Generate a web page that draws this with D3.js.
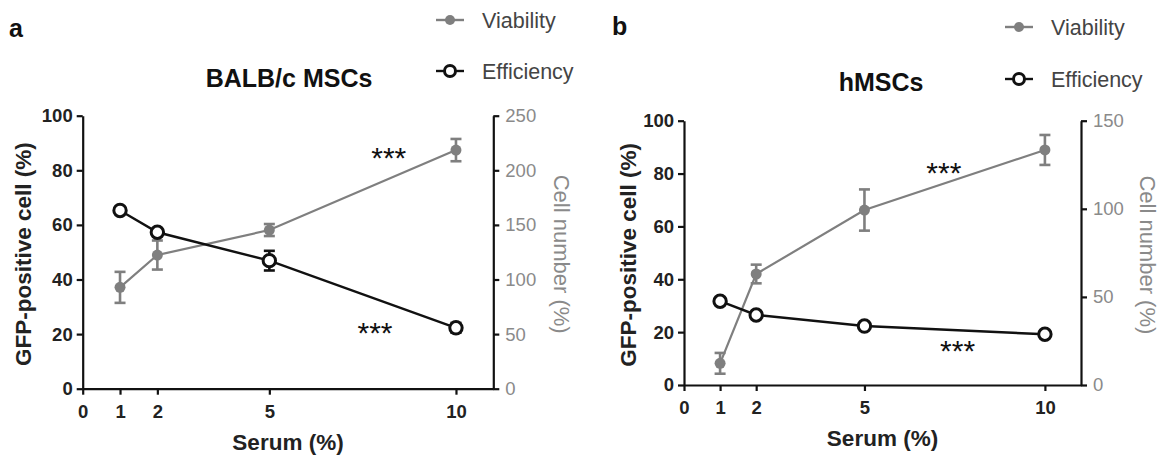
<!DOCTYPE html>
<html><head><meta charset="utf-8">
<script src="https://cdn.jsdelivr.net/npm/d3@7"></script>
<style>
html,body{margin:0;padding:0;background:#fff;}
svg{display:block;font-family:"Liberation Sans",Arial,Helvetica,sans-serif;}
</style></head>
<body><svg id="chart" width="1163" height="455"></svg>
<script>
// ---- data ----
const serum = [1, 2, 5, 10];
const xTickValues = [0, 1, 2, 5, 10];
const leftTickValues = [0, 20, 40, 60, 80, 100];
const rightTicksA = [0, 50, 100, 150, 200, 250];
const rightTicksB = [0, 50, 100, 150];

// Panel a: BALB/c MSCs
const aViability = [92.8, 122.4, 145.3, 218.5];     // Cell number (%), right axis
const aViabilityErr = [14.2, 13.3, 5.5, 10.2];
const aEfficiency = [65.3, 57.3, 46.9, 22.3];        // GFP-positive cell (%), left axis
const aEfficiencyErr = [1.0, 1.0, 3.6, 1.8];
const aStars = [[8.2, 86.8], [7.83, 22.7]];

// Panel b: hMSCs
const bViability = [12.3, 63.0, 99.3, 133.4];
const bViabilityErr = [5.9, 5.3, 11.7, 8.5];
const bEfficiency = [31.7, 26.5, 22.3, 19.2];
const bEfficiencyErr = [0.8, 0.8, 0.8, 0.8];
const bStars = [[7.2, 82.6], [7.58, 15.1]];

const legendLabels = ["Viability", "Efficiency"];

const svg = d3.select("#chart");
svg.append("rect").attr("width",1163).attr("height",455).attr("fill","#fff");

const GRAY = "#7f7f7f", GRAYTXT = "#8a8a8a", BLACK = "#111";

function panel(cfg) {
  const g = svg.append("g");
  const x = d3.scaleLinear().domain([0, 11]).range([cfg.x0, cfg.x1]);
  const yL = d3.scaleLinear().domain([0, 100]).range([cfg.y0, cfg.y1]);
  const yR = d3.scaleLinear().domain([0, cfg.rMax]).range([cfg.y0, cfg.y1]);

  // axes
  const ax = g.append("g").attr("transform", `translate(0,${cfg.y0})`)
    .call(d3.axisBottom(x).tickValues(xTickValues).tickSize(6).tickPadding(10).tickSizeOuter(0));
  const al = g.append("g").attr("transform", `translate(${cfg.x0},0)`)
    .call(d3.axisLeft(yL).tickValues(leftTickValues).tickSize(6).tickPadding(4).tickSizeOuter(0));
  const ar = g.append("g").attr("transform", `translate(${cfg.x1},0)`)
    .call(d3.axisRight(yR).tickValues(cfg.rTicks).tickSize(6).tickPadding(6).tickSizeOuter(0));
  [ax, al, ar].forEach(a => {
    a.select(".domain").attr("stroke", BLACK).attr("stroke-width", 2.2);
    a.selectAll(".tick line").attr("stroke", BLACK).attr("stroke-width", 2.2);
    a.selectAll("text").attr("font-family", "Liberation Sans, Arial, sans-serif");
  });
  ax.selectAll("text").attr("font-size", 18.5).attr("font-weight", "bold").attr("fill", "#222");
  al.selectAll("text").attr("font-size", 18.5).attr("font-weight", "bold").attr("fill", "#222");
  ar.selectAll("text").attr("font-size", 18.5).attr("fill", GRAYTXT);

  // axis titles
  g.append("text").attr("x", (cfg.x0 + cfg.x1) / 2).attr("y", cfg.y0 + 61)
    .attr("text-anchor", "middle").attr("font-size", 22.5).attr("font-weight", "bold").attr("fill", "#222")
    .text("Serum (%)");
  g.append("text").attr("transform", `translate(${cfg.lTitleX},${(cfg.y0 + cfg.y1) / 2 + 2}) rotate(-90)`)
    .attr("text-anchor", "middle").attr("dy", "0.36em").attr("font-size", 22.5).attr("font-weight", "bold").attr("fill", "#222")
    .text("GFP-positive cell (%)");
  g.append("text").attr("transform", `translate(${cfg.rTitleX},${(cfg.y0 + cfg.y1) / 2 + 2}) rotate(90)`)
    .attr("text-anchor", "middle").attr("dy", "0.36em").attr("font-size", 22).attr("fill", GRAYTXT)
    .text("Cell number (%)");

  // title & panel letter
  g.append("text").attr("x", cfg.titleX).attr("y", cfg.titleY).attr("text-anchor", "middle")
    .attr("font-size", 25).attr("font-weight", "bold").attr("fill", "#111").text(cfg.title);
  g.append("text").attr("x", cfg.letterX).attr("y", cfg.letterY)
    .attr("font-size", 25).attr("font-weight", "bold").attr("fill", "#111").text(cfg.letter);

  // viability (gray, right axis)
  const vLine = d3.line().x((d, i) => x(serum[i])).y(d => yR(d));
  g.append("path").datum(cfg.vVals).attr("d", vLine).attr("fill", "none").attr("stroke", GRAY).attr("stroke-width", 2.2);
  const vErr = g.append("g").attr("stroke", GRAY).attr("stroke-width", 2.6);
  cfg.vVals.forEach((v, i) => {
    const cx = x(serum[i]), t = yR(v + cfg.vErr[i]), b = yR(v - cfg.vErr[i]);
    vErr.append("line").attr("x1", cx).attr("x2", cx).attr("y1", t).attr("y2", b);
    vErr.append("line").attr("x1", cx - 5.5).attr("x2", cx + 5.5).attr("y1", t).attr("y2", t);
    vErr.append("line").attr("x1", cx - 5.5).attr("x2", cx + 5.5).attr("y1", b).attr("y2", b);
  });
  g.append("g").selectAll("circle").data(cfg.vVals).join("circle")
    .attr("cx", (d, i) => x(serum[i])).attr("cy", d => yR(d)).attr("r", 5.5).attr("fill", GRAY);

  // efficiency (black open, left axis)
  const eLine = d3.line().x((d, i) => x(serum[i])).y(d => yL(d));
  g.append("path").datum(cfg.eVals).attr("d", eLine).attr("fill", "none").attr("stroke", BLACK).attr("stroke-width", 2.4);
  const eErr = g.append("g").attr("stroke", BLACK).attr("stroke-width", 2.6);
  cfg.eVals.forEach((v, i) => {
    const cx = x(serum[i]), t = yL(v + cfg.eErr[i]), b = yL(v - cfg.eErr[i]);
    eErr.append("line").attr("x1", cx).attr("x2", cx).attr("y1", t).attr("y2", b);
    eErr.append("line").attr("x1", cx - 5.5).attr("x2", cx + 5.5).attr("y1", t).attr("y2", t);
    eErr.append("line").attr("x1", cx - 5.5).attr("x2", cx + 5.5).attr("y1", b).attr("y2", b);
  });
  g.append("g").selectAll("circle").data(cfg.eVals).join("circle")
    .attr("cx", (d, i) => x(serum[i])).attr("cy", d => yL(d)).attr("r", 6.2)
    .attr("fill", "#fff").attr("stroke", BLACK).attr("stroke-width", 3);

  // significance stars
  g.append("g").selectAll("text").data(cfg.stars).join("text")
    .attr("x", d => x(d[0])).attr("y", d => yL(d[1]) + 16)
    .attr("text-anchor", "middle").attr("font-size", 30).attr("fill", "#111").text("***");

  // legend
  const lg = g.append("g");
  legendLabels.forEach((lab, i) => {
    const yy = cfg.legY[i];
    lg.append("line").attr("x1", cfg.legX - 14).attr("x2", cfg.legX + 14).attr("y1", yy).attr("y2", yy)
      .attr("stroke", i === 0 ? GRAY : BLACK).attr("stroke-width", 2.4);
    if (i === 0) lg.append("circle").attr("cx", cfg.legX).attr("cy", yy).attr("r", 5).attr("fill", GRAY);
    else lg.append("circle").attr("cx", cfg.legX).attr("cy", yy).attr("r", 5.5).attr("fill", "#fff").attr("stroke", BLACK).attr("stroke-width", 3);
    lg.append("text").attr("x", cfg.legX + 32).attr("y", yy).attr("dy", "0.35em")
      .attr("font-size", 21.5).attr("fill", "#444").text(lab);
  });
}

panel({
  x0: 82.7, x1: 493.3, y0: 388.7, y1: 115.7, rMax: 250, rTicks: rightTicksA,
  vVals: aViability, vErr: aViabilityErr, eVals: aEfficiency, eErr: aEfficiencyErr, stars: aStars,
  title: "BALB/c MSCs", titleX: 289, titleY: 87, letter: "a", letterX: 9, letterY: 37,
  lTitleX: 23, rTitleX: 562, legX: 450, legY: [20, 71]
});
panel({
  x0: 684, x1: 1081, y0: 385, y1: 120.7, rMax: 150, rTicks: rightTicksB,
  vVals: bViability, vErr: bViabilityErr, eVals: bEfficiency, eErr: bEfficiencyErr, stars: bStars,
  title: "hMSCs", titleX: 881, titleY: 91, letter: "b", letterX: 612, letterY: 35,
  lTitleX: 628, rTitleX: 1148, legX: 1019, legY: [27, 79]
});
</script></body></html>
